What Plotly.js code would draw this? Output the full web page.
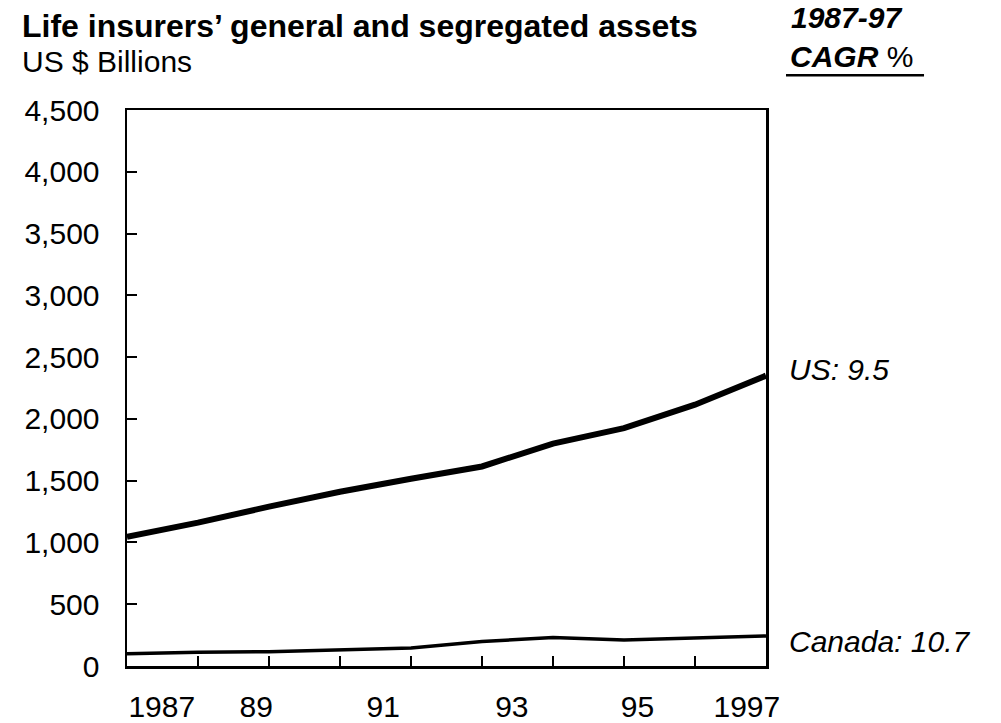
<!DOCTYPE html>
<html>
<head>
<meta charset="utf-8">
<script src="https://cdn.plot.ly/plotly-3.0.1.min.js"></script>
<style>html,body{margin:0;padding:0;background:#fff;}#chart{width:1001px;height:723px;}</style>
</head>
<body>
<div id="chart"></div>
<script>
// Data
const years = [1988, 1989, 1990, 1991, 1992, 1993, 1994, 1995, 1996, 1997];
const usAssets = [1045, 1160, 1290, 1410, 1515, 1615, 1800, 1925, 2115, 2350];
const canadaAssets = [100, 112, 115, 132, 145, 198, 230, 210, 225, 243];
const yTicks = [0, 500, 1000, 1500, 2000, 2500, 3000, 3500, 4000, 4500];
const xLabels = ['1987', '89', '91', '93', '95', '1997'];
const xLabelAt = [1988.49, 1989.82, 1991.61, 1993.42, 1995.19, 1996.73];
const usLabel = 'US: 9.5';
const canadaLabel = 'Canada: 10.7';

const FONT = '"Liberation Sans", Arial, Helvetica, sans-serif';

const traces = [
  {x: years, y: usAssets, type: 'scatter', mode: 'lines',
   line: {color: '#000', width: 6}, hoverinfo: 'skip', showlegend: false},
  {x: years, y: canadaAssets, type: 'scatter', mode: 'lines',
   line: {color: '#000', width: 3.5}, hoverinfo: 'skip', showlegend: false},
  {x: [years[0]], y: [0], xaxis: 'x2', type: 'scatter', mode: 'markers',
   marker: {opacity: 0}, hoverinfo: 'skip', showlegend: false}
];

const layout = {
  width: 1001, height: 723,
  margin: {l: 127, r: 235, t: 110, b: 57},
  paper_bgcolor: '#fff', plot_bgcolor: '#fff',
  font: {family: FONT, size: 30, color: '#000'},
  showlegend: false,
  xaxis: {
    type: 'linear', range: [years[0], years[years.length - 1]],
    tickvals: years, showticklabels: false,
    ticks: 'inside', ticklen: 10, tickwidth: 2, tickcolor: '#000',
    showline: true, linewidth: 2.5, linecolor: '#000', mirror: true,
    showgrid: false, zeroline: false, fixedrange: true
  },
  xaxis2: {
    overlaying: 'x', matches: 'x', anchor: 'y', side: 'bottom',
    tickvals: xLabelAt, ticktext: xLabels, ticks: '',
    ticklabelstandoff: 20,
    showline: false, showgrid: false, zeroline: false,
    tickfont: {family: FONT, size: 30, color: '#000'}, fixedrange: true
  },
  yaxis: {
    range: [0, 4500], tickvals: yTicks, tickformat: ',d',
    ticks: 'inside', ticklen: 10, tickwidth: 2, tickcolor: '#000',
    ticklabelstandoff: 19,
    showline: true, linewidth: 2.5, linecolor: '#000', mirror: true,
    showgrid: false, zeroline: false,
    tickfont: {family: FONT, size: 30, color: '#000'}, fixedrange: true
  },
  annotations: [
    {xref: 'paper', yref: 'paper', x: -0.1675, y: 1.151, xanchor: 'left', yanchor: 'middle',
     text: '<b>Life insurers’ general and segregated assets</b>', showarrow: false,
     font: {family: FONT, size: 32, color: '#000'}},
    {xref: 'paper', yref: 'paper', x: -0.1675, y: 1.088, xanchor: 'left', yanchor: 'middle',
     text: 'US $ Billions', showarrow: false,
     font: {family: FONT, size: 30, color: '#000'}},
    {xref: 'paper', yref: 'paper', x: 1.036, y: 1.166, xanchor: 'left', yanchor: 'middle',
     text: '<b><i>1987-97</i></b>', showarrow: false,
     font: {family: FONT, size: 30, color: '#000'}},
    {xref: 'paper', yref: 'paper', x: 1.034, y: 1.096, xanchor: 'left', yanchor: 'middle',
     text: '<b><i>CAGR</i></b> %', showarrow: false,
     font: {family: FONT, size: 30, color: '#000'}},
    {xref: 'paper', yref: 'paper', x: 1.033, y: 0.534, xanchor: 'left', yanchor: 'middle',
     text: '<i>' + usLabel + '</i>', showarrow: false,
     font: {family: FONT, size: 30, color: '#000'}},
    {xref: 'paper', yref: 'paper', x: 1.033, y: 0.044, xanchor: 'left', yanchor: 'middle',
     text: '<i>' + canadaLabel + '</i>', showarrow: false,
     font: {family: FONT, size: 30, color: '#000'}}
  ],
  shapes: [
    {type: 'line', xref: 'paper', yref: 'paper',
     x0: 1.0313, x1: 1.2473, y0: 1.0627, y1: 1.0627,
     line: {color: '#000', width: 2.5}}
  ]
};

Plotly.newPlot('chart', traces, layout, {displayModeBar: false, staticPlot: true});
</script>
</body>
</html>
